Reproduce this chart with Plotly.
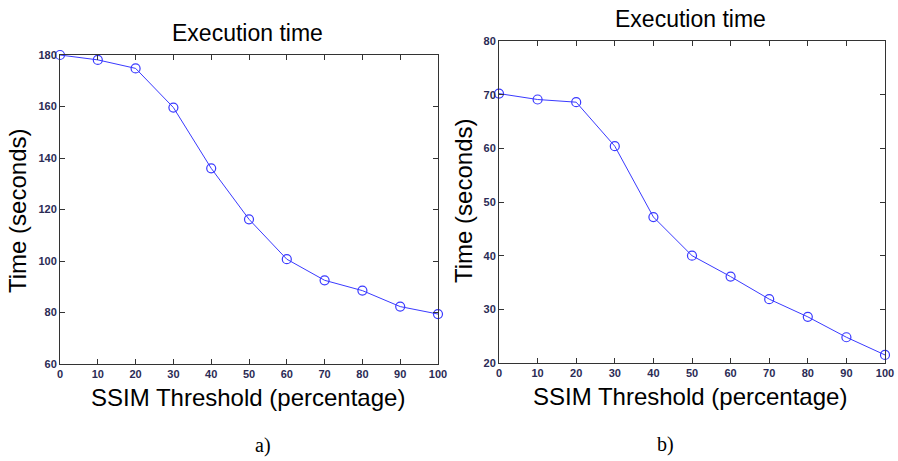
import plotly.graph_objects as go

threshold = [0, 10, 20, 30, 40, 50, 60, 70, 80, 90, 100]
time_a = [180.0, 178.1, 174.8, 159.6, 136.0, 116.2, 100.7, 92.5, 88.5, 82.3, 79.4]
time_b = [70.2, 69.1, 68.6, 60.4, 47.2, 40.0, 36.1, 31.9, 28.6, 24.8, 21.5]
ticks_x = [0, 10, 20, 30, 40, 50, 60, 70, 80, 90, 100]
ticks_a = [60, 80, 100, 120, 140, 160, 180]
ticks_b = [20, 30, 40, 50, 60, 70, 80]

W, H = 898, 461
line_col = "#3a3aff"
tick_font = dict(family="Liberation Sans Narrow, Arial Narrow, Liberation Sans", size=11,
                 color="#2b2b55", weight="bold")

fig = go.Figure()
for xs, ys, xa, ya in [(threshold, time_a, "x", "y"), (threshold, time_b, "x2", "y2")]:
    fig.add_trace(go.Scatter(
        x=xs, y=ys, xaxis=xa, yaxis=ya, mode="lines+markers",
        line=dict(color=line_col, width=1),
        marker=dict(symbol="circle-open", size=9, color=line_col, line=dict(width=1.2)),
        showlegend=False, cliponaxis=False))

def px_dom_x(a, b):
    return [a / W, b / W]

def px_dom_y(top, bottom):
    return [1 - bottom / H, 1 - top / H]

ax_common = dict(showgrid=False, zeroline=False, showline=True, linecolor="#333333",
                 linewidth=1, mirror="ticks", ticks="inside", ticklen=5,
                 tickcolor="#333333", tickfont=tick_font, automargin=False)

fig.update_layout(
    width=W, height=H, margin=dict(l=0, r=0, t=0, b=0, pad=0), autosize=False,
    paper_bgcolor="white", plot_bgcolor="white",
    xaxis=dict(domain=px_dom_x(60, 438), range=[0, 100], tickvals=ticks_x, anchor="y", **ax_common),
    yaxis=dict(domain=px_dom_y(55, 364), range=[60, 180], tickvals=ticks_a, anchor="x", **ax_common),
    xaxis2=dict(domain=px_dom_x(499, 885), range=[0, 100], tickvals=ticks_x, anchor="y2", **ax_common),
    yaxis2=dict(domain=px_dom_y(41, 363), range=[20, 80], tickvals=ticks_b, anchor="x2", **ax_common),
)

def ann(text, x, y, size, family="Liberation Sans, Arial", angle=0, color="black"):
    fig.add_annotation(text=text, x=x / W, y=1 - y / H, xref="paper", yref="paper",
                       showarrow=False, textangle=angle, xanchor="center", yanchor="middle",
                       font=dict(family=family, size=size, color=color))

ann("Execution time", 248, 33, 23)
ann("Execution time", 690, 19, 23)
ann("Time (seconds)", 17, 211, 24, angle=-90)
ann("Time (seconds)", 463, 201, 24, angle=-90)
ann("SSIM Threshold (percentage)", 248, 397, 24)
ann("SSIM Threshold (percentage)", 690, 396, 24)
ann("a)", 263, 445, 20, family="Liberation Serif, Times New Roman")
ann("b)", 665, 444, 20, family="Liberation Serif, Times New Roman")

fig.write_html("out.html", config={"displayModeBar": False},
               post_script="document.body.style.margin='0';document.body.style.overflow='hidden';")
